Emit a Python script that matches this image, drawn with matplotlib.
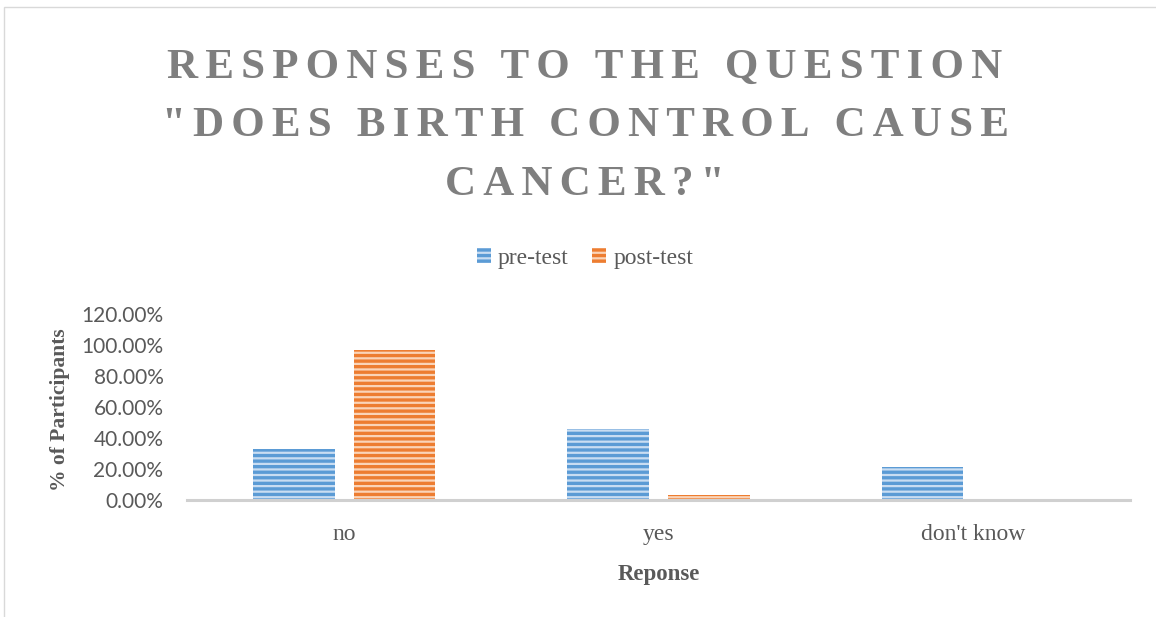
import numpy as np
import matplotlib
matplotlib.use('Agg')
import matplotlib.pyplot as plt
from matplotlib.patches import Rectangle
from matplotlib.ticker import FuncFormatter

# dados
categorias = ["no", "yes", "don't know"]
pre_test = [0.33, 0.46, 0.21]
post_test = [0.97, 0.03, 0.0]
titulo = ['RESPONSES TO THE QUESTION', '"DOES BIRTH CONTROL CAUSE', 'CANCER?"']

azul = '#5B9BD5'
laranja = '#ED7D31'
cinza = '#595959'

plt.rcParams['hatch.linewidth'] = 1.6

fig = plt.figure(figsize=(11.56, 6.17), dpi=100)
ax = fig.add_axes([187 / 1156, 1 - 500 / 617, 943 / 1156, 186 / 617])

x = np.arange(len(categorias))
w = 0.26
off = 0.16
ax.bar(x - off, pre_test, w, color=azul, edgecolor='#C9DDF2', hatch='---', linewidth=0, label='pre-test')
ax.bar(x + off, post_test, w, color=laranja, edgecolor='#FAD4B8', hatch='---', linewidth=0, label='post-test')

ax.set_xlim(-0.5, 2.5)
ax.set_ylim(0, 1.2)
ax.set_yticks(np.arange(0, 1.21, 0.2))
ax.yaxis.set_major_formatter(FuncFormatter(lambda v, p: '%.2f%%' % (v * 100)))
ax.set_xticks(x)
ax.set_xticklabels(categorias, family='Liberation Serif', fontsize=17, color=cinza)
for t in ax.get_yticklabels():
    t.set_family('Lato')
    t.set_fontsize(15)
    t.set_color(cinza)
ax.tick_params(axis='both', length=0)
ax.tick_params(axis='x', pad=17)
ax.tick_params(axis='y', pad=17)
for s in ['top', 'right', 'left']:
    ax.spines[s].set_visible(False)
ax.spines['bottom'].set_color('#D0D0D0')
ax.spines['bottom'].set_linewidth(2.2)

ax.set_xlabel('Reponse', family='Liberation Serif', fontweight='bold', fontsize=16.5, color=cinza, labelpad=14)
fig.text(60 / 1156, 1 - 410 / 617, '% of Participants', family='Liberation Serif', fontweight='bold',
         fontsize=15.5, color=cinza, rotation=90, ha='center', va='center')

# titulo com espacamento entre letras (six-per-em space)
for i, linha in enumerate(titulo):
    espacado = '\u2006'.join(linha)
    fig.text(585 / 1156, 1 - (78 + 58.5 * i) / 617, espacado, family='Liberation Serif', fontweight='bold',
             fontsize=31, color='#7F7F7F', ha='center', va='baseline')

leg = fig.legend(loc='center', bbox_to_anchor=(585 / 1156, 1 - 258 / 617), ncol=2, frameon=False,
                 prop={'family': 'Liberation Serif', 'size': 17}, handlelength=0.6, handleheight=0.6,
                 handletextpad=0.3, columnspacing=1.0)
for t in leg.get_texts():
    t.set_color(cinza)

# moldura
fig.patches.append(Rectangle((4 / 1156, -0.01), 1.0, 1 - 7 / 617 + 0.01, transform=fig.transFigure,
                             fill=False, edgecolor='#D9D9D9', linewidth=1))

plt.savefig('out.png', dpi=100)
